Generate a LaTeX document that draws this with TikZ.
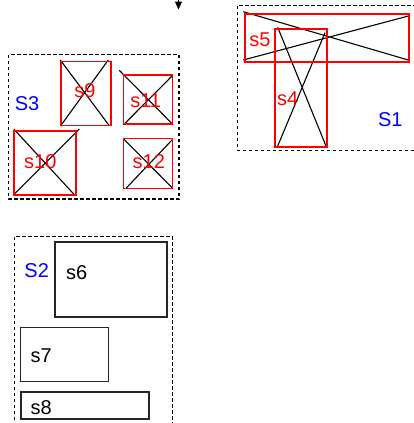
\documentclass[tikz,border=0pt]{standalone}
\usepackage{fontspec}
\setmainfont{Liberation Sans}
\usetikzlibrary{arrows.meta}
\begin{document}
\begin{tikzpicture}[x=1pt,y=-1pt,
  grp/.style={draw=black,dash pattern=on 3.5pt off 2.5pt,line width=1.1pt},
  rbox/.style={draw=red,line width=1.5pt,inner sep=0pt,outer sep=0pt},
  bbox/.style={draw=black!85,line width=1.3pt,inner sep=0pt,outer sep=0pt},
  lbl/.style={font=\fontsize{20}{22}\selectfont,inner sep=0pt,anchor=base},
  rl/.style={lbl,text=red},
  gl/.style={lbl,text=blue},
  kl/.style={lbl,text=black},
  xl/.style={draw=black,line width=1.1pt}]
\useasboundingbox (0,0) rectangle (413,423);
% top arrow
\coordinate (atop) at (178.5,-12);
\coordinate (abot) at (178.5,9.5);
\draw[line width=1pt,-{Triangle[width=7pt,length=8pt]}] (atop) -- (abot);
% groups
\draw[grp] (237.5,5.5) rectangle (425,150.5);
\draw[grp] (8.5,54.5) rectangle (179,199);
\draw[grp] (14.5,236.5) rectangle (172.5,435);
% S3 members
\draw[xl] (60.3,60) -- (109,125.3) (108.3,60) -- (61,125.3);
\draw[xl] (119.3,70.3) -- (172.7,124.3) (172.7,75.3) -- (124,124.3);
\draw[xl] (14,129.3) -- (74,194.3) (79.3,129) -- (14,194.3);
\draw[xl] (124,139.3) -- (172.7,188.3) (172.7,139.3) -- (126,188.3);
\node[rbox,minimum width=50pt,minimum height=64pt] (s9) at (86,93.5) {};
\node[rbox,minimum width=49pt,minimum height=49pt] (s11) at (148,99.5) {};
\node[rbox,minimum width=62pt,minimum height=64pt] (s10) at (45,163) {};
\node[rbox,minimum width=49pt,minimum height=50pt] (s12) at (148,163.5) {};
\node[rl] (t9) at (85,97) {s9};
\node[rl] (t11) at (145.7,107) {s11};
\node[rl] (t10) at (40.3,168) {s10};
\node[rl] (t12) at (148.8,168) {s12};
\node[gl] (tS3) at (27,110) {S3};
% S1 members
\draw[xl] (243.3,11.7) -- (408.3,60) (243.3,60) -- (408.3,16);
\draw[xl] (277.7,27.3) -- (326,146) (325,32.7) -- (277.7,146);
\node[rbox,minimum width=164pt,minimum height=48pt] (s5) at (327,38) {};
\node[rbox,minimum width=52pt,minimum height=118pt] (s4) at (301,88) {};
\node[rl] (t5) at (260,46.7) {s5};
\node[rl] (t4) at (287.7,105) {s4};
\node[gl] (tS1) at (390.3,126.7) {S1};
% S2 members
\node[bbox,minimum width=112pt,minimum height=75pt] (s6) at (111,279.5) {};
\node[bbox,minimum width=88pt,minimum height=54pt] (s7) at (64.5,354.5) {};
\node[bbox,minimum width=128pt,minimum height=27pt] (s8) at (85,405.5) {};
\node[kl] (t6) at (76.7,279) {s6};
\node[kl] (t7) at (41.2,362.7) {s7};
\node[kl] (t8) at (41.2,414) {s8};
\node[gl] (tS2) at (36.7,277.7) {S2};
\end{tikzpicture}
\end{document}
